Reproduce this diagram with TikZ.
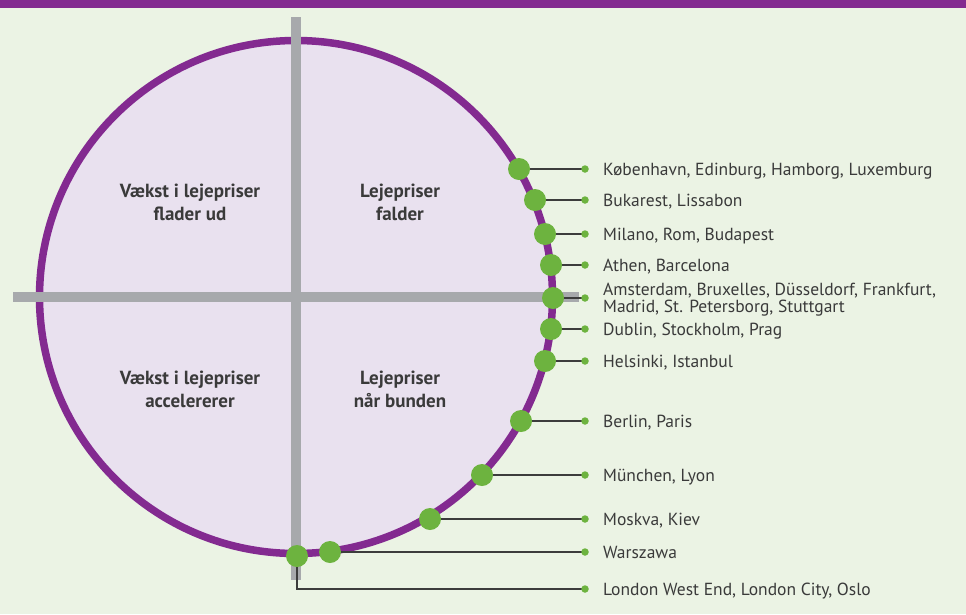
\documentclass[tikz,border=0pt]{standalone}
\usepackage{fontspec}
\setmainfont{PT Sans}
\definecolor{bgc}{HTML}{EBF3E4}
\definecolor{purp}{HTML}{832A90}
\definecolor{lav}{HTML}{E9E1EF}
\definecolor{barc}{HTML}{A7A9AC}
\definecolor{grn}{HTML}{6DB33F}
\definecolor{txt}{HTML}{3A3A3A}
\definecolor{lnc}{HTML}{3C3C3C}
\tikzset{
  bigdot/.style={circle,fill=grn,minimum size=22pt,inner sep=0pt},
  smalldot/.style={circle,fill=grn,minimum size=7.5pt,inner sep=0pt},
  leader/.style={draw=lnc,line width=1.2pt},
  city/.style={anchor=base west,inner sep=0pt,text=txt,font=\fontsize{17.5}{18}\selectfont},
  quad/.style={anchor=base,inner sep=0pt,text=txt,font=\bfseries\fontsize{19}{23}\selectfont},
  axis/.style={draw=barc,line width=10pt}
}
\begin{document}
\begin{tikzpicture}[x=1pt,y=-1pt]
\useasboundingbox (0,0) rectangle (966,614);
\fill[bgc] (0,0) rectangle (966,614);
\fill[purp] (0,0) rectangle (966,7.5);
% circle
\coordinate (C) at (296,297);
\fill[lav] (C) circle (256.5);
\draw[purp,line width=7.5pt] (C) circle (256.5);
% axes
\coordinate (vt) at (296,17);
\coordinate (vb) at (296,580);
\coordinate (hl) at (13,297);
\coordinate (hr) at (579,297);
\draw[axis] (vt) -- (vb);
\draw[axis] (hl) -- (hr);
% quadrant labels
\node[quad] (q1a) at (190,197) {Vækst i lejepriser};
\node[quad] (q1b) at (190,220) {flader ud};
\node[quad] (q2a) at (400,197) {Lejepriser};
\node[quad] (q2b) at (400,220) {falder};
\node[quad] (q3a) at (190,384) {Vækst i lejepriser};
\node[quad] (q3b) at (190,407) {accelererer};
\node[quad] (q4a) at (400,384) {Lejepriser};
\node[quad] (q4b) at (400,407) {når bunden};
% end points of leaders
\foreach \n/\y in {1/169,2/200,3/234,4/265,5/298,6/329,7/361,8/421,9/475,10/519,11/552,12/589}{
  \coordinate (e\n) at (585,\y);
}
% big dot positions
\coordinate (p1) at (519,169);
\coordinate (p2) at (535,200);
\coordinate (p3) at (545,234);
\coordinate (p4) at (551,265);
\coordinate (p5) at (553,298);
\coordinate (p6) at (551,329);
\coordinate (p7) at (545,361);
\coordinate (p8) at (521,421);
\coordinate (p9) at (482,475);
\coordinate (p10) at (430,519);
\coordinate (p11) at (330,552);
\coordinate (p12) at (297,556);
% leaders
\foreach \n in {1,...,11}{ \draw[leader] (p\n) -- (e\n); }
\draw[leader] (p12) |- (e12);
% dots
\foreach \n in {1,...,12}{
  \node[bigdot] (d\n) at (p\n) {};
  \node[smalldot] (s\n) at (e\n) {};
}
% city labels
\node[city] (t1) at (603,175) {København, Edinburg, Hamborg, Luxemburg};
\node[city] (t2) at (603,206) {Bukarest, Lissabon};
\node[city] (t3) at (603,240) {Milano, Rom, Budapest};
\node[city] (t4) at (603,271) {Athen, Barcelona};
\node[city] (t5a) at (603,295) {Amsterdam, Bruxelles, Düsseldorf, Frankfurt,};
\node[city] (t5b) at (603,312) {Madrid, St. Petersborg, Stuttgart};
\node[city] (t6) at (603,335) {Dublin, Stockholm, Prag};
\node[city] (t7) at (603,367) {Helsinki, Istanbul};
\node[city] (t8) at (603,427) {Berlin, Paris};
\node[city] (t9) at (603,481) {München, Lyon};
\node[city] (t10) at (603,525) {Moskva, Kiev};
\node[city] (t11) at (603,558) {Warszawa};
\node[city] (t12) at (603,595) {London West End, London City, Oslo};
\end{tikzpicture}
\end{document}
